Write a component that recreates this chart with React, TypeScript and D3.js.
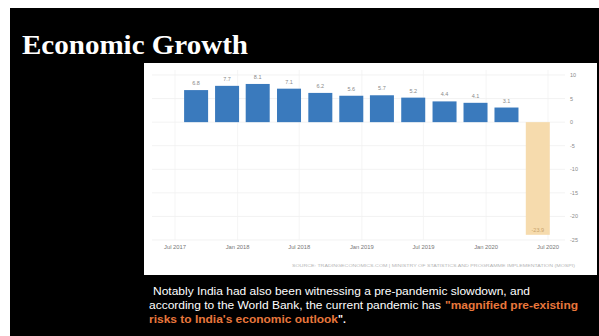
import React, { useEffect } from "react";
import * as d3 from "d3";

const quarters = ["2017-09-01","2017-12-01","2018-03-01","2018-06-01","2018-09-01","2018-12-01","2019-03-01","2019-06-01","2019-09-01","2019-12-01","2020-03-01","2020-06-01"];
const growth = [6.8, 7.7, 8.1, 7.1, 6.2, 5.6, 5.7, 5.2, 4.4, 4.1, 3.1, -23.9];
const yTicks = [10, 5, 0, -5, -10, -15, -20, -25];
const xTickDates = ["2017-07-01","2018-01-01","2018-07-01","2019-01-01","2019-07-01","2020-01-01","2020-07-01"];
const xTickLabels = ["Jul 2017","Jan 2018","Jul 2018","Jan 2019","Jul 2019","Jan 2020","Jul 2020"];
const title = "Economic Growth";
const sourceText = "SOURCE: TRADINGECONOMICS.COM | MINISTRY OF STATISTICS AND PROGRAMME IMPLEMENTATION (MOSPI)";

const parse = d3.utcParse("%Y-%m-%d");

export default function App() {
  useEffect(() => {
    document.body.style.margin = "0";
  }, []);

  const x = d3.scaleUtc()
    .domain([parse("2017-07-01")!, parse("2020-07-01")!])
    .range([175, 548]);
  const y = d3.scaleLinear().domain([-25, 10]).range([240, 75]);
  const barW = 24;
  const sans = "'Liberation Sans', Arial, sans-serif";
  const orange = "#e8773c";

  return (
    <svg width={599} height={336} style={{ display: "block" }}>
      <rect x={0} y={0} width={599} height={336} fill="#fff" />
      <rect x={10} y={8} width={589} height={328} fill="#000" />
      <text x={22} y={54} fill="#fff" fontFamily="'Liberation Serif', 'Times New Roman', serif"
        fontWeight="bold" fontSize={27} textLength={226} lengthAdjust="spacingAndGlyphs">{title}</text>

      <rect x={144} y={63} width={453} height={212} fill="#fff" />

      {/* gridlines */}
      {yTicks.map((t) => (
        <line key={"gy" + t} x1={152} x2={565} y1={y(t)} y2={y(t)} stroke="#ececec" strokeWidth={0.7} />
      ))}
      {xTickDates.map((d) => (
        <line key={"gx" + d} x1={x(parse(d)!)} x2={x(parse(d)!)} y1={70} y2={240} stroke="#f0f0f0" strokeWidth={0.7} />
      ))}

      {/* bars */}
      {growth.map((v, i) => {
        const cx = x(parse(quarters[i])!);
        const top = y(Math.max(0, v));
        const h = Math.abs(y(v) - y(0));
        return (
          <g key={"b" + i}>
            <rect x={cx - barW / 2} y={top} width={barW} height={h}
              fill={v >= 0 ? "#3a7abd" : "#f6dbad"} />
            {v >= 0 ? (
              <text x={cx} y={top - 5} textAnchor="middle" fontFamily={sans} fontSize={5.5} fill="#8a8a8a">{v.toFixed(1)}</text>
            ) : (
              <text x={cx} y={y(v) - 3} textAnchor="middle" fontFamily={sans} fontSize={5.5} fill="#c9a36c">{v.toFixed(1)}</text>
            )}
          </g>
        );
      })}

      {/* y axis labels */}
      {yTicks.map((t) => (
        <text key={"yl" + t} x={570} y={y(t) + 2} fontFamily={sans} fontSize={5.5} fill="#8a8a8a">{t}</text>
      ))}

      {/* x axis labels */}
      {xTickDates.map((d, i) => (
        <text key={"xl" + d} x={x(parse(d)!)} y={249} textAnchor="middle" fontFamily={sans} fontSize={5.8} fill="#777">{xTickLabels[i]}</text>
      ))}

      <text x={292} y={267} fontFamily={sans} fontSize={4} fill="#b5b5b5" textLength={283} lengthAdjust="spacingAndGlyphs">{sourceText}</text>

      {/* caption */}
      <text x={153} y={295} fontFamily={sans} fontSize={10.5} fill="#fff" textLength={377} lengthAdjust="spacingAndGlyphs">Notably India had also been witnessing a pre-pandemic slowdown, and</text>
      <text x={149} y={309} fontFamily={sans} fontSize={10.5} fill="#fff" textLength={292} lengthAdjust="spacingAndGlyphs">according to the World Bank, the current pandemic has</text>
      <text x={445} y={309} fontFamily={sans} fontSize={10.5} fill={orange} fontWeight="bold" textLength={133} lengthAdjust="spacingAndGlyphs">"magnified pre-existing</text>
      <text x={149} y={323} fontFamily={sans} fontSize={10.5} fill={orange} fontWeight="bold" textLength={189} lengthAdjust="spacingAndGlyphs">risks to India's economic outlook</text>
      <text x={338} y={323} fontFamily={sans} fontSize={10.5} fill="#fff" fontWeight="bold">".</text>
    </svg>
  );
}
